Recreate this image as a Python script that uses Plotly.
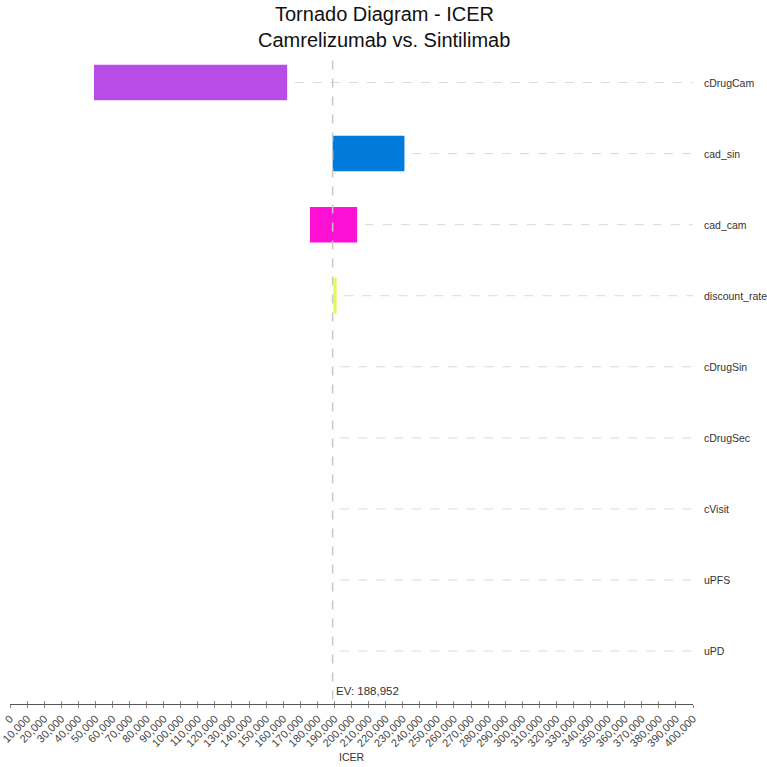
import plotly.graph_objects as go

params = ["cDrugCam", "cad_sin", "cad_cam", "discount_rate", "cDrugSin",
          "cDrugSec", "cVisit", "uPFS", "uPD"]
ev = 188952
low_vals = [49200, 188952, 175700, 189400, 188952, 188952, 188952, 188952, 188952]
high_vals = [162300, 231000, 203300, 191300, 188952, 188952, 188952, 188952, 188952]
bar_colors = ["#b94be6", "#007bdb", "#fe10d5", "#e5f75a", "#ffffff",
              "#ffffff", "#ffffff", "#ffffff", "#ffffff"]
x_max = 400000
tick_vals = list(range(0, x_max + 1, 10000))

FONT = "Liberation Sans, Arial"

fig = go.Figure()
fig.add_trace(go.Bar(
    y=params, x=[h - l for l, h in zip(low_vals, high_vals)], base=low_vals,
    orientation="h", width=0.5, marker=dict(color=bar_colors, line=dict(width=0)),
    showlegend=False, hoverinfo="skip"))

# dashed guide lines from bar end to the right
for p, h in zip(params, high_vals):
    fig.add_shape(type="line", xref="x", yref="y", x0=h + 4500, x1=x_max,
                  y0=p, y1=p, line=dict(color="#d9d9d9", width=1, dash="dash"),
                  layer="below")
    fig.add_annotation(x=1, xref="paper", y=p, yref="y", text=p, showarrow=False,
                       xanchor="left", xshift=9,
                       font=dict(size=10.5, color="#333333", family=FONT))

# EV vertical line
fig.add_shape(type="line", xref="x", yref="y", x0=ev, x1=ev, y0=-0.31, y1=8.745,
              line=dict(color="#c8c8c8", width=1.5, dash="dash"), layer="above")
fig.add_annotation(x=ev, xref="x", y=0, yref="paper", text=f"EV: {ev:,}",
                   showarrow=False, xanchor="left", yanchor="bottom", xshift=1, yshift=5,
                   font=dict(size=11.5, color="#333333", family=FONT))
fig.add_annotation(x=0.5, xref="paper", y=0, yref="paper", text="ICER",
                   showarrow=False, xanchor="center", yanchor="middle", yshift=-53,
                   font=dict(size=10.5, color="#333333", family=FONT))

# title as annotations (two lines), centred on the page
for line, ypx in [("Tornado Diagram - ICER", 13), ("Camrelizumab vs. Sintilimab", 39)]:
    fig.add_annotation(x=0.5, xref="paper", y=1, yref="paper", xanchor="center",
                       yanchor="middle", xshift=32.5, yshift=46.5 - ypx, showarrow=False,
                       text=line, font=dict(size=20, color="#111111", family=FONT))

# invisible trace on overlay axis for inner ticks
fig.add_trace(go.Scatter(x=[0], y=[params[0]], xaxis="x2", mode="markers",
                         marker=dict(opacity=0), showlegend=False, hoverinfo="skip"))

fig.update_layout(
    width=767, height=767,
    margin=dict(l=10, r=74, t=46.5, b=63, autoexpand=False),
    paper_bgcolor="white", plot_bgcolor="white",
    xaxis=dict(range=[0, x_max], tickvals=tick_vals, tickformat=",", tickangle=-45,
               automargin=False,
               showgrid=False, zeroline=False, showline=True, linecolor="#555555",
               linewidth=1, ticks="outside", ticklen=3, tickcolor="#888888",
               tickfont=dict(size=11, color="#444444", family=FONT)),
    xaxis2=dict(range=[0, x_max], tickvals=tick_vals, overlaying="x", side="bottom",
                anchor="y", showticklabels=False, showgrid=False, zeroline=False,
                automargin=False,
                ticks="inside", ticklen=3, tickcolor="#888888", showline=False),
    yaxis=dict(type="category", categoryarray=params, range=[8.745, -0.5],
               automargin=False,
               showticklabels=False, showgrid=False, zeroline=False, showline=False,
               ticks=""),
    bargap=0.5,
)

fig.write_html("out.html")
